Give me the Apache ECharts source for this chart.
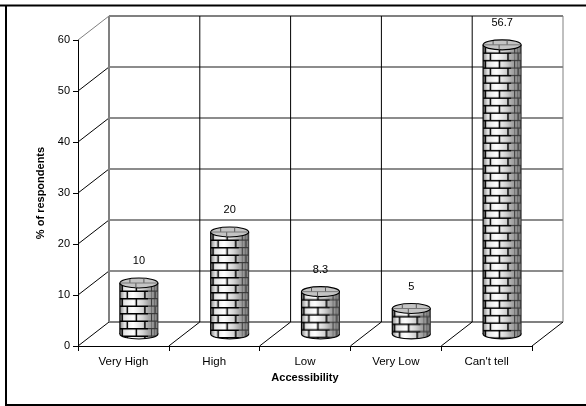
<!DOCTYPE html>
<html>
<head>
<meta charset="utf-8">
<style>
html, body { margin: 0; padding: 0; background: #fff; }
#main { width: 586px; height: 406px; }
</style>
<script src="https://cdn.jsdelivr.net/npm/echarts@6/dist/echarts.min.js"></script>
</head>
<body>
<div id="main"></div>
<script>
// data
var categories = ['Very High', 'High', 'Low', 'Very Low', "Can't tell"];
var percentValues = [10, 20, 8.3, 5, 56.7];
var valueTicks = [0, 10, 20, 30, 40, 50, 60];

// 3d look
var depthX = 31;
var depthY = 24;
var cylW = 38;
var cylRy = 5;
var fontName = '"Liberation Sans", Arial, sans-serif';

// brick texture, one tile = 2 rows of bricks
function makeBricks() {
    var c = document.createElement('canvas');
    c.width = cylW;
    c.height = 15;
    var ctx = c.getContext('2d');
    var g = ctx.createLinearGradient(0, 0, cylW, 0);
    g.addColorStop(0, '#888888');
    g.addColorStop(0.12, '#e4e4e4');
    g.addColorStop(0.35, '#ffffff');
    g.addColorStop(0.6, '#d4d4d4');
    g.addColorStop(0.75, '#a8a8a8');
    g.addColorStop(1, '#808080');
    ctx.fillStyle = g;
    ctx.fillRect(0, 0, cylW, 15);
    // mortar rows, softer on the dark side
    ctx.fillStyle = '#000';
    ctx.fillRect(0, 0, 28, 1.5);
    ctx.fillRect(0, 7.5, 28, 1.5);
    ctx.fillStyle = '#3c3c3c';
    ctx.fillRect(28, 0, cylW - 28, 1.2);
    ctx.fillRect(28, 7.5, cylW - 28, 1.2);
    // joints
    function joints(y, angles) {
        for (var i = 0; i < angles.length; i++) {
            var x = cylW / 2 + cylW / 2 * Math.sin(angles[i] * Math.PI / 180);
            ctx.fillStyle = x > 28 ? '#3c3c3c' : '#000';
            ctx.fillRect(x - 0.7, y, x > 28 ? 1 : 1.5, 7);
        }
    }
    joints(1, [-62, -8, 42, 78]);
    joints(8.5, [-38, 18, 60]);
    // rough dither on the dark side
    ctx.fillStyle = 'rgba(50,50,50,0.4)';
    ctx.fillRect(31, 0, 1, 15);
    ctx.fillRect(34, 0, 1, 15);
    return c;
}
var brickTile = makeBricks();

function line(x1, y1, x2, y2, color, width) {
    return {
        type: 'line',
        shape: { x1: x1, y1: y1, x2: x2, y2: y2 },
        style: { stroke: color, lineWidth: width, fill: null }
    };
}

// walls and floor
function renderTickWall(params, api) {
    var v = api.value(0);
    var w = api.size([1, 0])[0];
    var p0 = api.coord([0, v]);
    var left = p0[0] - w / 2;
    var right = left + w * categories.length;
    var y = p0[1];
    var top = v === valueTicks[valueTicks.length - 1];
    var thick = top || v === 0;
    var kids = [line(left, y, left + depthX, y - depthY, top ? '#808080' : '#000', 1)];
    kids.push(line(left + depthX, y - depthY, right + depthX, y - depthY, thick ? '#808080' : '#666', thick ? 2 : 1.5));
    return { type: 'group', children: kids };
}

function renderCatWall(params, api) {
    var idx = api.value(0);
    var w = api.size([1, 0])[0];
    var p0 = api.coord([idx, 0]);
    var pTop = api.coord([idx, valueTicks[valueTicks.length - 1]]);
    var x = p0[0] - w / 2;
    var kids = [];
    kids.push(line(x + depthX, p0[1] - depthY, x + depthX, pTop[1] - depthY, idx === 0 ? '#808080' : '#000', idx === 0 ? 2 : 1));
    if (idx > 0) {
        kids.push(line(x, p0[1], x + depthX, p0[1] - depthY, '#000', 1));
    }
    if (idx === categories.length - 1) {
        var xr = x + w;
        kids.push(line(xr + depthX, p0[1] - depthY, xr + depthX, pTop[1] - depthY, '#808080', 1));
        kids.push(line(xr, p0[1], xr + depthX, p0[1] - depthY, '#000', 1));
    }
    return { type: 'group', children: kids };
}

function renderCylinder(params, api) {
    var idx = api.value(0);
    var val = api.value(1);
    var base = api.coord([idx, 0]);
    var head = api.coord([idx, val]);
    var cx = base[0] + depthX / 2;
    var yBase = base[1] - depthY / 2;
    var yHead = head[1] - depthY / 2;
    var h = yBase - yHead;
    var rx = cylW / 2;
    var tile = { image: brickTile, repeat: 'repeat' };
    return {
        type: 'group',
        x: cx - rx,
        y: yHead,
        children: [
            { type: 'ellipse', shape: { cx: rx, cy: h, rx: rx, ry: cylRy }, style: { fill: tile, stroke: '#000', lineWidth: 1.2 } },
            { type: 'rect', shape: { x: 0, y: 0, width: cylW, height: h }, style: { fill: tile } },
            line(0, 0, 0, h, '#000', 1.2),
            line(cylW, 0, cylW, h, '#333', 1),
            { type: 'ellipse', shape: { cx: rx, cy: 0, rx: rx, ry: cylRy }, style: { fill: '#c4c4c4', stroke: '#000', lineWidth: 1.2 } },
            line(rx - 9, -cylRy + 1, rx - 9, 0, '#555', 1),
            line(rx + 5, -cylRy, rx + 5, 0, '#555', 1),
            line(rx - 3, 0, rx - 3, cylRy, '#555', 1),
            line(1, 0, cylW - 1, 0, '#777', 1),
            {
                type: 'text',
                style: {
                    text: String(val), x: rx, y: -22,
                    fill: '#000', font: '11px ' + fontName,
                    align: 'center', verticalAlign: 'middle'
                }
            }
        ]
    };
}

var myChart = echarts.init(document.getElementById('main'), null, { renderer: 'canvas' });
var barData = [];
for (var i = 0; i < categories.length; i++) {
    barData.push([i, percentValues[i]]);
}
var catData = [];
for (var j = 0; j < categories.length; j++) {
    catData.push([j]);
}
var tickData = [];
for (var k = 0; k < valueTicks.length; k++) {
    tickData.push([valueTicks[k]]);
}

myChart.setOption({
    animation: false,
    backgroundColor: '#fff',
    textStyle: { fontFamily: fontName },
    grid: { left: 78, top: 40, width: 454, height: 306 },
    graphic: [
        { type: 'line', shape: { x1: 0, y1: 5.5, x2: 586, y2: 5.5 }, style: { stroke: '#000', lineWidth: 2 } },
        { type: 'line', shape: { x1: 6, y1: 5, x2: 6, y2: 406 }, style: { stroke: '#000', lineWidth: 2 } },
        { type: 'line', shape: { x1: 5, y1: 405, x2: 586, y2: 405 }, style: { stroke: '#000', lineWidth: 2 } }
    ],
    xAxis: {
        type: 'category',
        data: categories,
        name: 'Accessibility',
        nameLocation: 'middle',
        nameGap: 26,
        nameTextStyle: { color: '#000', fontWeight: 'bold', fontSize: 11, fontFamily: fontName },
        axisLine: { lineStyle: { color: '#000', width: 1 } },
        axisTick: { show: true, length: 5, lineStyle: { color: '#000' } },
        axisLabel: { color: '#000', fontSize: 11.5, margin: 10, fontFamily: fontName, interval: 0 },
        splitLine: { show: false }
    },
    yAxis: {
        type: 'value',
        min: 0,
        max: 60,
        interval: 10,
        name: '% of respondents',
        nameLocation: 'middle',
        nameGap: 28,
        nameTextStyle: { color: '#000', fontWeight: 'bold', fontSize: 11, fontFamily: fontName },
        axisLine: { show: true, lineStyle: { color: '#000', width: 1 } },
        axisTick: { show: true, length: 5, lineStyle: { color: '#000' } },
        axisLabel: { color: '#000', fontSize: 11, margin: 8, fontFamily: fontName },
        splitLine: { show: false }
    },
    series: [
        { type: 'custom', z: 1, clip: false, silent: true, renderItem: renderTickWall, data: tickData, encode: { y: 0 } },
        { type: 'custom', z: 1, clip: false, silent: true, renderItem: renderCatWall, data: catData, encode: { x: 0 } },
        { type: 'custom', z: 3, clip: false, silent: true, renderItem: renderCylinder, data: barData, encode: { x: 0, y: 1 } }
    ]
});
</script>
</body>
</html>
